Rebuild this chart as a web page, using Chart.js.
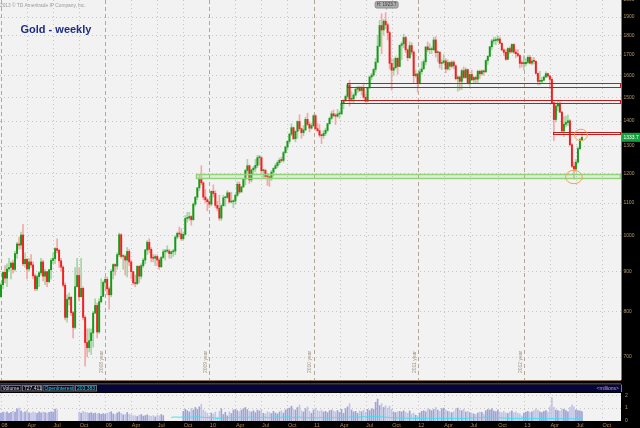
<!DOCTYPE html>
<html>
<head>
<meta charset="utf-8">
<title>Gold - weekly</title>
<script src="https://cdn.jsdelivr.net/npm/chart.js@4.4.1/dist/chart.umd.min.js"></script>
<style>
  html, body { margin: 0; padding: 0; background: #000; }
  #wrap { position: relative; width: 640px; height: 428px; overflow: hidden; background: #000; }
  canvas { position: absolute; left: 0; }
  #price { top: 0; }
  #vol { top: 380px; }
</style>
</head>
<body>
<div id="wrap">
  <canvas id="price" width="640" height="381"></canvas>
  <canvas id="vol" width="640" height="48"></canvas>
</div>
<script>
// weekly gold, slot 0 = week of 31 Dec 2007
const open08 = [835,865,897,882,906,910,922,905,948,975,972,1001,920,932,906,925,917,888,855,886,896,925,887,899,873,904,929,934,962,957,928,911,864,786,829,834,797,763,860,889,835,856,786,730,719,734,751,796,814,753,823,836,871];
const high08 = [870,900,915,920,935,925,930,955,980,995,1010,1033,950,935,935,945,925,893,890,900,935,930,905,900,905,935,950,965,990,960,935,915,870,840,845,835,800,910,935,910,935,860,790,760,760,760,800,830,820,830,880,875,885];
const low08 = [833,855,870,860,900,880,895,900,935,960,960,915,910,880,900,910,880,850,850,860,890,875,865,860,870,880,920,920,950,910,900,860,780,775,815,790,740,760,860,825,835,780,681,700,710,705,720,795,740,750,820,835,860];
const close08 = [865,897,882,906,910,922,905,948,975,972,1001,920,932,906,925,917,888,855,886,896,925,887,899,873,904,929,934,962,957,928,911,864,786,829,834,797,763,860,889,835,856,786,730,719,734,751,796,814,753,823,836,871,879];

const open09 = [879,855,840,900,918,914,945,1002,940,940,930,954,925,899,870,868,913,887,915,930,958,980,960,936,935,940,930,912,937,953,955,955,948,953,955,995,1006,1004,990,1003,1051,1052,1057,1047,1096,1119,1150,1182,1167,1119,1110,1104];
const high09 = [885,860,905,920,920,950,1007,1005,945,945,965,960,930,900,890,915,915,920,935,960,985,990,965,945,945,945,935,940,960,960,970,960,955,960,1000,1010,1025,1020,1010,1060,1070,1070,1060,1100,1120,1150,1195,1227,1170,1145,1115,1110];
const low09 = [840,805,835,880,890,905,940,935,905,890,885,915,880,865,860,865,870,880,910,920,945,950,925,925,915,915,905,910,935,930,950,935,935,940,945,990,995,985,985,1000,1040,1045,1030,1045,1090,1110,1140,1160,1110,1100,1075,1085];
const close09 = [855,840,900,918,914,945,1002,940,940,930,954,925,899,870,868,913,887,915,930,958,980,960,936,935,940,930,912,937,953,955,955,948,953,955,995,1006,1004,990,1003,1051,1052,1057,1047,1096,1119,1150,1182,1167,1119,1110,1104,1096];

const open10 = [1096,1138,1131,1092,1083,1052,1091,1117,1118,1133,1103,1104,1106,1125,1162,1136,1153,1180,1210,1227,1177,1212,1218,1228,1256,1256,1209,1210,1189,1188,1181,1204,1217,1227,1238,1247,1246,1275,1296,1318,1346,1372,1328,1357,1397,1368,1352,1363,1406,1385,1370,1380];
const high10 = [1140,1160,1140,1105,1125,1095,1125,1120,1140,1135,1135,1110,1130,1170,1170,1155,1180,1215,1250,1230,1215,1225,1250,1265,1265,1262,1215,1215,1200,1190,1210,1220,1235,1245,1255,1258,1280,1300,1320,1350,1388,1375,1360,1400,1425,1370,1380,1415,1432,1395,1390,1425];
const low10 = [1090,1120,1085,1075,1045,1045,1090,1090,1115,1100,1100,1085,1095,1120,1130,1135,1150,1160,1200,1165,1170,1195,1205,1220,1230,1200,1185,1185,1158,1155,1175,1190,1215,1220,1230,1240,1240,1272,1285,1310,1340,1325,1316,1330,1360,1330,1340,1360,1380,1355,1365,1375];
const close10 = [1138,1131,1092,1083,1052,1091,1117,1118,1133,1103,1104,1106,1125,1162,1136,1153,1180,1210,1227,1177,1212,1218,1228,1256,1256,1209,1210,1189,1188,1181,1204,1217,1227,1238,1247,1246,1275,1296,1318,1346,1372,1328,1357,1397,1368,1352,1363,1406,1385,1370,1380,1421];

const open11 = [1421,1368,1360,1342,1340,1349,1361,1388,1410,1429,1421,1419,1428,1429,1475,1486,1504,1556,1491,1493,1510,1536,1542,1530,1540,1500,1483,1542,1592,1601,1628,1663,1743,1852,1828,1876,1856,1814,1657,1624,1636,1682,1642,1747,1755,1788,1724,1685,1746,1713,1598,1606];
const high11 = [1425,1390,1385,1345,1360,1370,1390,1415,1440,1445,1430,1448,1440,1477,1490,1510,1560,1577,1525,1515,1540,1550,1550,1550,1560,1515,1545,1595,1610,1632,1682,1800,1880,1917,1885,1923.7,1865,1820,1680,1680,1690,1685,1750,1765,1805,1795,1730,1765,1760,1720,1625,1610];
const low11 = [1362,1355,1335,1309,1330,1340,1355,1385,1405,1415,1385,1415,1410,1425,1450,1480,1495,1462,1480,1475,1505,1520,1525,1510,1495,1478,1480,1540,1580,1595,1615,1660,1740,1705,1800,1835,1775,1630,1532,1600,1630,1605,1640,1675,1735,1710,1670,1680,1700,1565,1590,1523];
const close11 = [1368,1360,1342,1340,1349,1361,1388,1410,1429,1421,1419,1428,1429,1475,1486,1504,1556,1491,1493,1510,1536,1542,1530,1540,1500,1483,1542,1592,1601,1628,1663,1743,1852,1828,1876,1856,1814,1657,1624,1636,1682,1642,1747,1755,1788,1724,1685,1746,1713,1598,1606,1566];

const open12 = [1566,1617,1630,1665,1739,1725,1725,1725,1775,1710,1712,1657,1662,1669,1630,1661,1643,1663,1645,1584,1592,1572,1622,1590,1627,1566,1604,1579,1590,1582,1619,1607,1621,1616,1671,1692,1740,1770,1772,1774,1780,1758,1724,1712,1677,1731,1714,1752,1713,1705,1696,1657];
const high12 = [1630,1665,1675,1740,1765,1755,1740,1790,1792,1720,1715,1675,1700,1680,1675,1665,1670,1670,1650,1600,1595,1630,1640,1635,1630,1605,1625,1595,1597,1625,1625,1625,1625,1675,1695,1742,1778,1790,1790,1798,1790,1760,1730,1725,1735,1740,1755,1755,1725,1725,1700,1670];
const low12 = [1560,1605,1630,1650,1715,1705,1705,1720,1688,1665,1635,1627,1655,1612,1625,1625,1635,1630,1578,1527,1532,1535,1585,1585,1560,1545,1575,1565,1565,1565,1585,1600,1600,1615,1652,1690,1725,1755,1750,1765,1755,1720,1696,1672,1675,1705,1710,1705,1685,1690,1635,1640];
const close12 = [1617,1630,1665,1739,1725,1725,1725,1775,1710,1712,1657,1662,1669,1630,1661,1643,1663,1645,1584,1592,1572,1622,1590,1627,1566,1604,1579,1590,1582,1619,1607,1621,1616,1671,1692,1740,1770,1772,1774,1780,1758,1724,1712,1677,1731,1714,1752,1713,1705,1696,1657,1656];

const open13 = [1656,1656,1662,1687,1658,1669,1667,1609,1572,1572,1577,1592,1608,1597,1581,1476,1405,1462,1470,1436,1359,1386,1393,1400,1305,1225,1215,1240,1290,1324];
const high13 = [1695,1680,1695,1697,1685,1685,1670,1612,1619,1590,1596,1616,1610,1600,1590,1480,1475,1488,1480,1440,1417,1419,1425,1405,1310,1240,1250,1297,1330,1348];
const low13 = [1625,1645,1655,1655,1650,1655,1605,1555,1555,1562,1575,1590,1590,1540,1473,1321,1395,1441,1435,1355,1336,1375,1380,1300,1220,1180,1207,1235,1285,1320];
const close13 = [1656,1662,1687,1658,1669,1667,1609,1572,1572,1577,1592,1608,1597,1581,1476,1405,1462,1470,1436,1359,1386,1393,1400,1305,1225,1215,1240,1290,1324,1333.7];

// volume in millions (gaps where the feed had none)
const volume = [
  0.62,0.70,0.66,0.72,0.60,0.68,0.74,0.70,0.95,1.00,0.78,0.66,0.72,0.80,0.64,0.62,0.70,0.66,0.60,0.72,0.64,0.70,0.66,0.62,0.68,0.72,0.70,0.92,0.86,
  null,null,null,null,null,null,null,null,null,null,
  0.70,0.62,0.75,0.68,0.66,0.60,0.66,0.58,0.62,0.55,0.60,0.52,
  0.58,0.52,0.60,0.66,0.72,0.55,0.50,0.62,0.70,0.60,0.48,0.50,0.66,0.52,0.48,0.42,
  0.40,0.35,0.45,0.50,0.38,0.42,0.48,0.40,0.36,0.42,0.32,0.45,0.40,0.50,0.42,
  null,null,null,null,null,null,null,null,null,
  0.75,0.92,0.80,0.70,0.98,0.85,1.05,0.90,1.10,1.30,0.85,0.72,0.60,0.40,0.62,
  0.55,0.70,0.30,0.75,0.95,0.50,0.68,0.40,0.72,0.58,0.85,
  0.90,0.80,0.72,0.85,0.95,1.05,0.88,0.75,0.70,0.80,0.65,0.85,0.78,0.90,
  0.60,0.55,0.72,0.65,0.58,0.75,0.62,0.55,0.70,0.80,0.62,0.85,0.95,1.00,1.15,
  0.90,0.85,1.05,1.25,0.80,0.70,0.95,1.10,0.75,0.60,0.85,1.00,0.80,0.75,0.85,
  0.70,0.75,0.65,0.80,0.85,0.78,0.70,0.82,0.66,0.90,0.60,0.95,1.10,1.35,0.85,
  0.70,0.75,0.60,0.78,0.72,0.85,0.68,0.90,0.80,0.95,0.90,1.45,1.70,1.20,1.35,
  1.05,1.20,1.00,1.15,0.90,0.70,0.65,0.72,0.75,0.70,0.80,0.68,0.60,0.78,0.55,
  0.62,0.45,0.40,0.62,0.75,0.80,0.72,0.95,0.88,0.80,0.90,1.05,0.85,0.75,0.95,
  1.00,0.85,0.75,0.70,0.65,0.72,0.95,1.00,0.85,0.80,0.92,0.70,0.75,0.65,0.60,
  0.55,0.50,0.62,0.70,0.68,0.55,0.80,0.90,0.85,0.95,0.78,0.72,0.85,0.70,0.65,
  0.75,0.62,0.60,0.70,0.78,0.65,0.72,0.60,0.55,0.40,0.62,0.70,0.75,0.68,0.72,
  0.80,0.95,0.85,0.72,0.65,0.75,0.80,0.70,1.10,1.80,1.05,0.85,0.80,0.75,0.95,
  0.90,0.80,0.72,1.05,1.25,1.10,0.85,0.80,0.78,0.73
];

// open interest in millions, starts at slot 85
const oiStart = 85;
const openInterest = [
  0.28,0.30,0.31,0.30,0.29,0.30,0.31,0.32,0.30,0.29,0.30,0.31,0.32,0.33,0.31,
  0.30,0.28,0.27,0.26,0.27,0.28,0.25,0.22,0.20,0.21,0.23,0.25,0.27,0.28,0.26,
  0.24,0.25,0.27,0.28,0.30,0.29,0.27,0.26,0.28,0.30,0.31,0.29,0.27,0.25,0.26,
  0.28,0.30,0.29,0.27,0.26,0.28,0.30,0.32,0.31,0.29,0.28,0.30,0.32,0.33,0.31,
  0.29,0.27,0.28,0.30,0.31,0.29,0.27,0.25,0.24,0.26,0.28,0.27,0.25,0.24,0.26,
  0.27,0.26,0.24,0.23,0.25,0.27,0.28,0.26,0.25,0.27,0.29,0.30,0.29,0.28,0.30,
  0.31,0.32,0.30,0.29,0.31,0.33,0.34,0.32,0.31,0.33,0.35,0.36,0.34,0.33,0.32,
  0.33,0.31,0.30,0.28,0.27,0.25,0.24,0.25,0.24,0.23,0.22,0.23,0.22,0.21,0.22,
  0.21,0.20,0.19,0.20,0.21,0.20,0.19,0.20,0.21,0.22,0.21,0.20,0.19,0.20,0.21,
  0.20,0.19,0.18,0.19,0.20,0.21,0.20,0.19,0.20,0.21,0.20,0.19,0.20,0.21,0.22,
  0.23,0.24,0.25,0.26,0.27,0.28,0.29,0.30,0.31,0.30,0.29,0.28,0.27,0.26,0.25,
  0.24,0.23,0.22,0.21,0.20,0.19,0.20,0.21,0.20,0.19,0.20,0.21,0.20,0.19,0.18,
  0.19,0.20,0.19,0.18,0.19,0.20,0.19,0.18,0.17,0.18,0.19,0.18,0.17,0.16,0.17,
  0.18,0.17,0.16,0.17,0.18,0.17,0.16,0.17,0.18,0.17,0.20
];

// axis ticks
const priceTicks = [700,800,900,1000,1100,1200,1300,1400,1500,1600,1700,1800,1900,2000];
const monthSlots = [0,13,26,39,52,65,78,91,104,117,130,143,156,169,182,195,208,221,234,248,261,274,287,300];
const monthText = ['08','Apr','Jul','Oct','09','Apr','Jul','Oct','10','Apr','Jul','Oct','11','Apr','Jul','Oct','12','Apr','Jul','Oct','13','Apr','Jul','Oct'];
const yearSlots = [52,104,156,208,261];
const yearText = ['2008 year','2009 year','2010 year','2011 year','2012 year'];
const volTicks = [0,1,2];

// drawn support / resistance zones and marks
const zoneLo = [1545,1473,1346,1182];
const zoneHi = [1565,1489,1355,1198];
const zoneFrom = [173,170,276,98];
const zoneColor = ['#c41c1c','#c41c1c','#c41c1c','#93d47a'];
const ringSlot = [289.5,286];
const ringValue = [1343,1187];
const ringRx = [6.5,8.3];
const ringRy = [5.7,6.7];

const open = [...open08, ...open09, ...open10, ...open11, ...open12, ...open13];
const high = [...high08, ...high09, ...high10, ...high11, ...high12, ...high13];
const low = [...low08, ...low09, ...low10, ...low11, ...low12, ...low13];
const close = [...close08, ...close09, ...close10, ...close11, ...close12, ...close13];

const SLOTS = 310;
const weeks = [];
for (let i = 0; i < SLOTS; i++) {
  const d = new Date(Date.UTC(2007, 11, 31 + 7 * i));
  weeks.push(d.toISOString().slice(0, 10));
}
const up = close.map((c, i) => c >= open[i]);
const FONT = '"Liberation Sans", Arial, sans-serif';
const AXIS_TXT = '#b39a6c';

function vline(ctx, x, y0, y1) { ctx.beginPath(); ctx.moveTo(x, y0); ctx.lineTo(x, y1); ctx.stroke(); }
function hline(ctx, y, x0, x1) { ctx.beginPath(); ctx.moveTo(x0, y); ctx.lineTo(x1, y); ctx.stroke(); }

const priceDecor = {
  id: 'priceDecor',
  beforeDraw(chart) {
    const { ctx, chartArea: a, scales: { x, y } } = chart;
    ctx.save();
    ctx.fillStyle = '#f2f2f2';
    ctx.fillRect(a.left, a.top, a.right - a.left, a.bottom - a.top);
    ctx.lineWidth = 1;
    ctx.strokeStyle = '#c6c6c6';
    ctx.setLineDash([1, 3]);
    priceTicks.forEach(v => hline(ctx, Math.round(y.getPixelForValue(v)) + 0.5, a.left, a.right));
    monthSlots.forEach((s, i) => {
      if (monthText[i].length === 2) return;
      vline(ctx, Math.round(x.getPixelForValue(s)) + 0.5, a.top, a.bottom);
    });
    ctx.strokeStyle = '#b5a796';
    ctx.setLineDash([4, 3]);
    monthSlots.forEach((s, i) => {
      if (monthText[i].length !== 2) return;
      vline(ctx, Math.round(x.getPixelForValue(s)) + 0.5, a.top, a.bottom);
    });
    ctx.setLineDash([]);
    ctx.fillStyle = '#a09282';
    ctx.font = '5px ' + FONT;
    ctx.textBaseline = 'bottom';
    ctx.textAlign = 'left';
    yearSlots.forEach((s, i) => {
      ctx.save();
      ctx.translate(x.getPixelForValue(s) - 1, 373);
      ctx.rotate(-Math.PI / 2);
      ctx.fillText(yearText[i], 0, 0);
      ctx.restore();
    });
    ctx.restore();
  },
  afterDatasetsDraw(chart) {
    const { ctx, chartArea: a, scales: { x, y } } = chart;
    const half = (x.getPixelForValue(1) - x.getPixelForValue(0)) / 2;
    ctx.save();
    zoneLo.forEach((lo, i) => {
      const x0 = Math.round(x.getPixelForValue(zoneFrom[i]) - half) + 0.5;
      const yTop = Math.round(y.getPixelForValue(zoneHi[i])) + 0.5;
      const yBot = Math.round(y.getPixelForValue(lo)) + 0.5;
      const green = i === 3;
      if (green) {
        ctx.fillStyle = 'rgba(150,214,120,0.18)';
        ctx.fillRect(x0, yTop, a.right - x0, yBot - yTop);
      }
      ctx.strokeStyle = zoneColor[i];
      ctx.lineWidth = green ? 1.5 : 1;
      ctx.strokeRect(x0, yTop, a.right - 0.5 - x0, yBot - yTop);
    });
    ctx.strokeStyle = '#f2a254';
    ctx.lineWidth = 1;
    ringSlot.forEach((s, i) => {
      ctx.beginPath();
      ctx.ellipse(x.getPixelForValue(s), y.getPixelForValue(ringValue[i]), ringRx[i], ringRy[i], 0, 0, Math.PI * 2);
      ctx.stroke();
    });
    // high bubble
    const hi = Math.max(...high);
    const hx = x.getPixelForValue(high.indexOf(hi)) + 1;
    const txt = 'H: ' + hi.toFixed(1);
    ctx.font = '4.6px ' + FONT;
    const w = ctx.measureText(txt).width + 3;
    ctx.fillStyle = '#adadad';
    ctx.strokeStyle = '#8c8c8c';
    ctx.beginPath();
    ctx.roundRect(hx - w / 2, 1.5, w, 6.5, 1.5);
    ctx.fill();
    ctx.stroke();
    ctx.beginPath();
    ctx.moveTo(hx - 1.5, 8); ctx.lineTo(hx, 10); ctx.lineTo(hx + 1.5, 8); ctx.closePath();
    ctx.fill();
    ctx.fillStyle = '#3a3a3a';
    ctx.textAlign = 'center';
    ctx.textBaseline = 'middle';
    ctx.fillText(txt, hx, 4.9);
    ctx.restore();
  },
  afterDraw(chart) {
    const { ctx, chartArea: a, scales: { y } } = chart;
    ctx.save();
    ctx.strokeStyle = '#7d7d7d';
    ctx.lineWidth = 1;
    vline(ctx, a.right + 0.5, a.top, a.bottom);
    ctx.font = '5px ' + FONT;
    ctx.fillStyle = AXIS_TXT;
    ctx.textAlign = 'left';
    ctx.textBaseline = 'middle';
    priceTicks.forEach(v => ctx.fillText(String(v), a.right + 2.5, y.getPixelForValue(v)));
    // last price tag
    const last = close[close.length - 1];
    const ly = y.getPixelForValue(last);
    ctx.fillStyle = '#16a03d';
    ctx.fillRect(a.right + 1, ly - 4.5, 640 - a.right - 1, 9);
    ctx.fillStyle = '#ffffff';
    ctx.fillText(last.toFixed(1), a.right + 2.5, ly);
    // title and notice
    ctx.fillStyle = '#1b2d84';
    ctx.font = 'bold 11px ' + FONT;
    ctx.textBaseline = 'alphabetic';
    ctx.fillText('Gold - weekly', 20.5, 33);
    ctx.fillStyle = '#9b9b9b';
    ctx.font = '4.8px ' + FONT;
    ctx.fillText('2013 \u00a9 TD Ameritrade IP Company, Inc.', 0, 6.5);
    ctx.restore();
  }
};

const volDecor = {
  id: 'volDecor',
  beforeDraw(chart) {
    const { ctx, chartArea: a, scales: { x, y } } = chart;
    ctx.save();
    ctx.strokeStyle = '#8f7650';
    ctx.lineWidth = 1;
    hline(ctx, 0.5, 0, a.right);
    hline(ctx, 4, 0, a.right);
    ctx.fillStyle = '#05053a';
    ctx.fillRect(0, 4.5, a.right, 7.5);
    ctx.strokeStyle = '#8f7650';
    vline(ctx, a.right + 0.5, 4.5, 12);
    const boxes = [[0.5, 21, 'Volume', '#d8d8d8'], [22, 20, '727,411', '#d8d8d8'], [42.5, 32, 'OpenInterest', '#22d6f0'], [75, 22, '203,383', '#22d6f0']];
    ctx.font = '5px ' + FONT;
    ctx.textBaseline = 'middle';
    ctx.textAlign = 'left';
    boxes.forEach(([bx, bw, t, c]) => {
      ctx.fillStyle = '#0b0b1e';
      ctx.fillRect(bx, 5, bw, 6.5);
      ctx.strokeStyle = '#6d6d6d';
      ctx.strokeRect(bx + 0.5, 5.5, bw - 1, 5.5);
      ctx.fillStyle = c;
      ctx.fillText(t, bx + 2, 8.4);
    });
    ctx.fillStyle = '#c79fd6';
    ctx.textAlign = 'right';
    ctx.fillText('<millions>', a.right - 2, 8.4);
    ctx.fillStyle = '#f2f2f2';
    ctx.fillRect(a.left, a.top, a.right - a.left, a.bottom - a.top);
    ctx.strokeStyle = '#c6c6c6';
    ctx.setLineDash([1, 3]);
    [1, 2].forEach(v => hline(ctx, Math.round(y.getPixelForValue(v)) + 0.5, a.left, a.right));
    monthSlots.forEach(s => vline(ctx, Math.round(x.getPixelForValue(s)) + 0.5, a.top, a.bottom));
    ctx.restore();
  },
  afterDraw(chart) {
    const { ctx, chartArea: a, scales: { x, y } } = chart;
    ctx.save();
    ctx.font = '5px ' + FONT;
    ctx.fillStyle = AXIS_TXT;
    ctx.textAlign = 'left';
    ctx.textBaseline = 'middle';
    volTicks.forEach(v => ctx.fillText(String(v), a.right + 4, Math.max(y.getPixelForValue(v), a.top + 2)));
    ctx.font = '5.5px ' + FONT;
    ctx.fillStyle = '#b8894a';
    ctx.textBaseline = 'alphabetic';
    monthSlots.forEach((s, i) => ctx.fillText(monthText[i], x.getPixelForValue(s) + 0.5, 46.5));
    ctx.restore();
  }
};

new Chart(document.getElementById('price'), {
  type: 'bar',
  data: {
    labels: weeks,
    datasets: [
      {
        label: 'Range',
        data: low.map((l, i) => [l, high[i]]),
        backgroundColor: up.map(u => u ? '#a3d6a3' : '#f5a8a8'),
        barThickness: 1,
        grouped: false,
        order: 2
      },
      {
        label: 'Body',
        data: open.map((o, i) => [o, close[i]]),
        backgroundColor: up.map(u => u ? '#179a17' : '#f02020'),
        barThickness: 1.3,
        minBarLength: 1,
        grouped: false,
        order: 1
      }
    ]
  },
  options: {
    responsive: false,
    animation: false,
    devicePixelRatio: 1,
    events: [],
    layout: { padding: { left: 0, right: 19, top: 0, bottom: 1 } },
    scales: {
      x: { display: false },
      y: { type: 'logarithmic', display: false, min: 654, max: 1996 }
    },
    plugins: { legend: { display: false }, tooltip: { enabled: false } }
  },
  plugins: [priceDecor]
});

new Chart(document.getElementById('vol'), {
  type: 'bar',
  data: {
    labels: weeks,
    datasets: [
      {
        type: 'line',
        label: 'Open interest',
        data: weeks.map((w, i) => (i >= oiStart && i - oiStart < openInterest.length) ? openInterest[i - oiStart] : null),
        borderColor: '#3ee2f2',
        borderWidth: 1,
        pointRadius: 0,
        tension: 0,
        order: 0
      },
      {
        label: 'Volume',
        data: volume,
        backgroundColor: up.map(u => u ? '#9ea2d7' : '#c2c4e8'),
        barThickness: 1,
        order: 1
      }
    ]
  },
  options: {
    responsive: false,
    animation: false,
    devicePixelRatio: 1,
    events: [],
    layout: { padding: { left: 0, right: 19, top: 13, bottom: 7 } },
    scales: {
      x: { display: false },
      y: { display: false, min: 0, max: 2.17 }
    },
    plugins: { legend: { display: false }, tooltip: { enabled: false } }
  },
  plugins: [volDecor]
});
</script>
</body>
</html>
